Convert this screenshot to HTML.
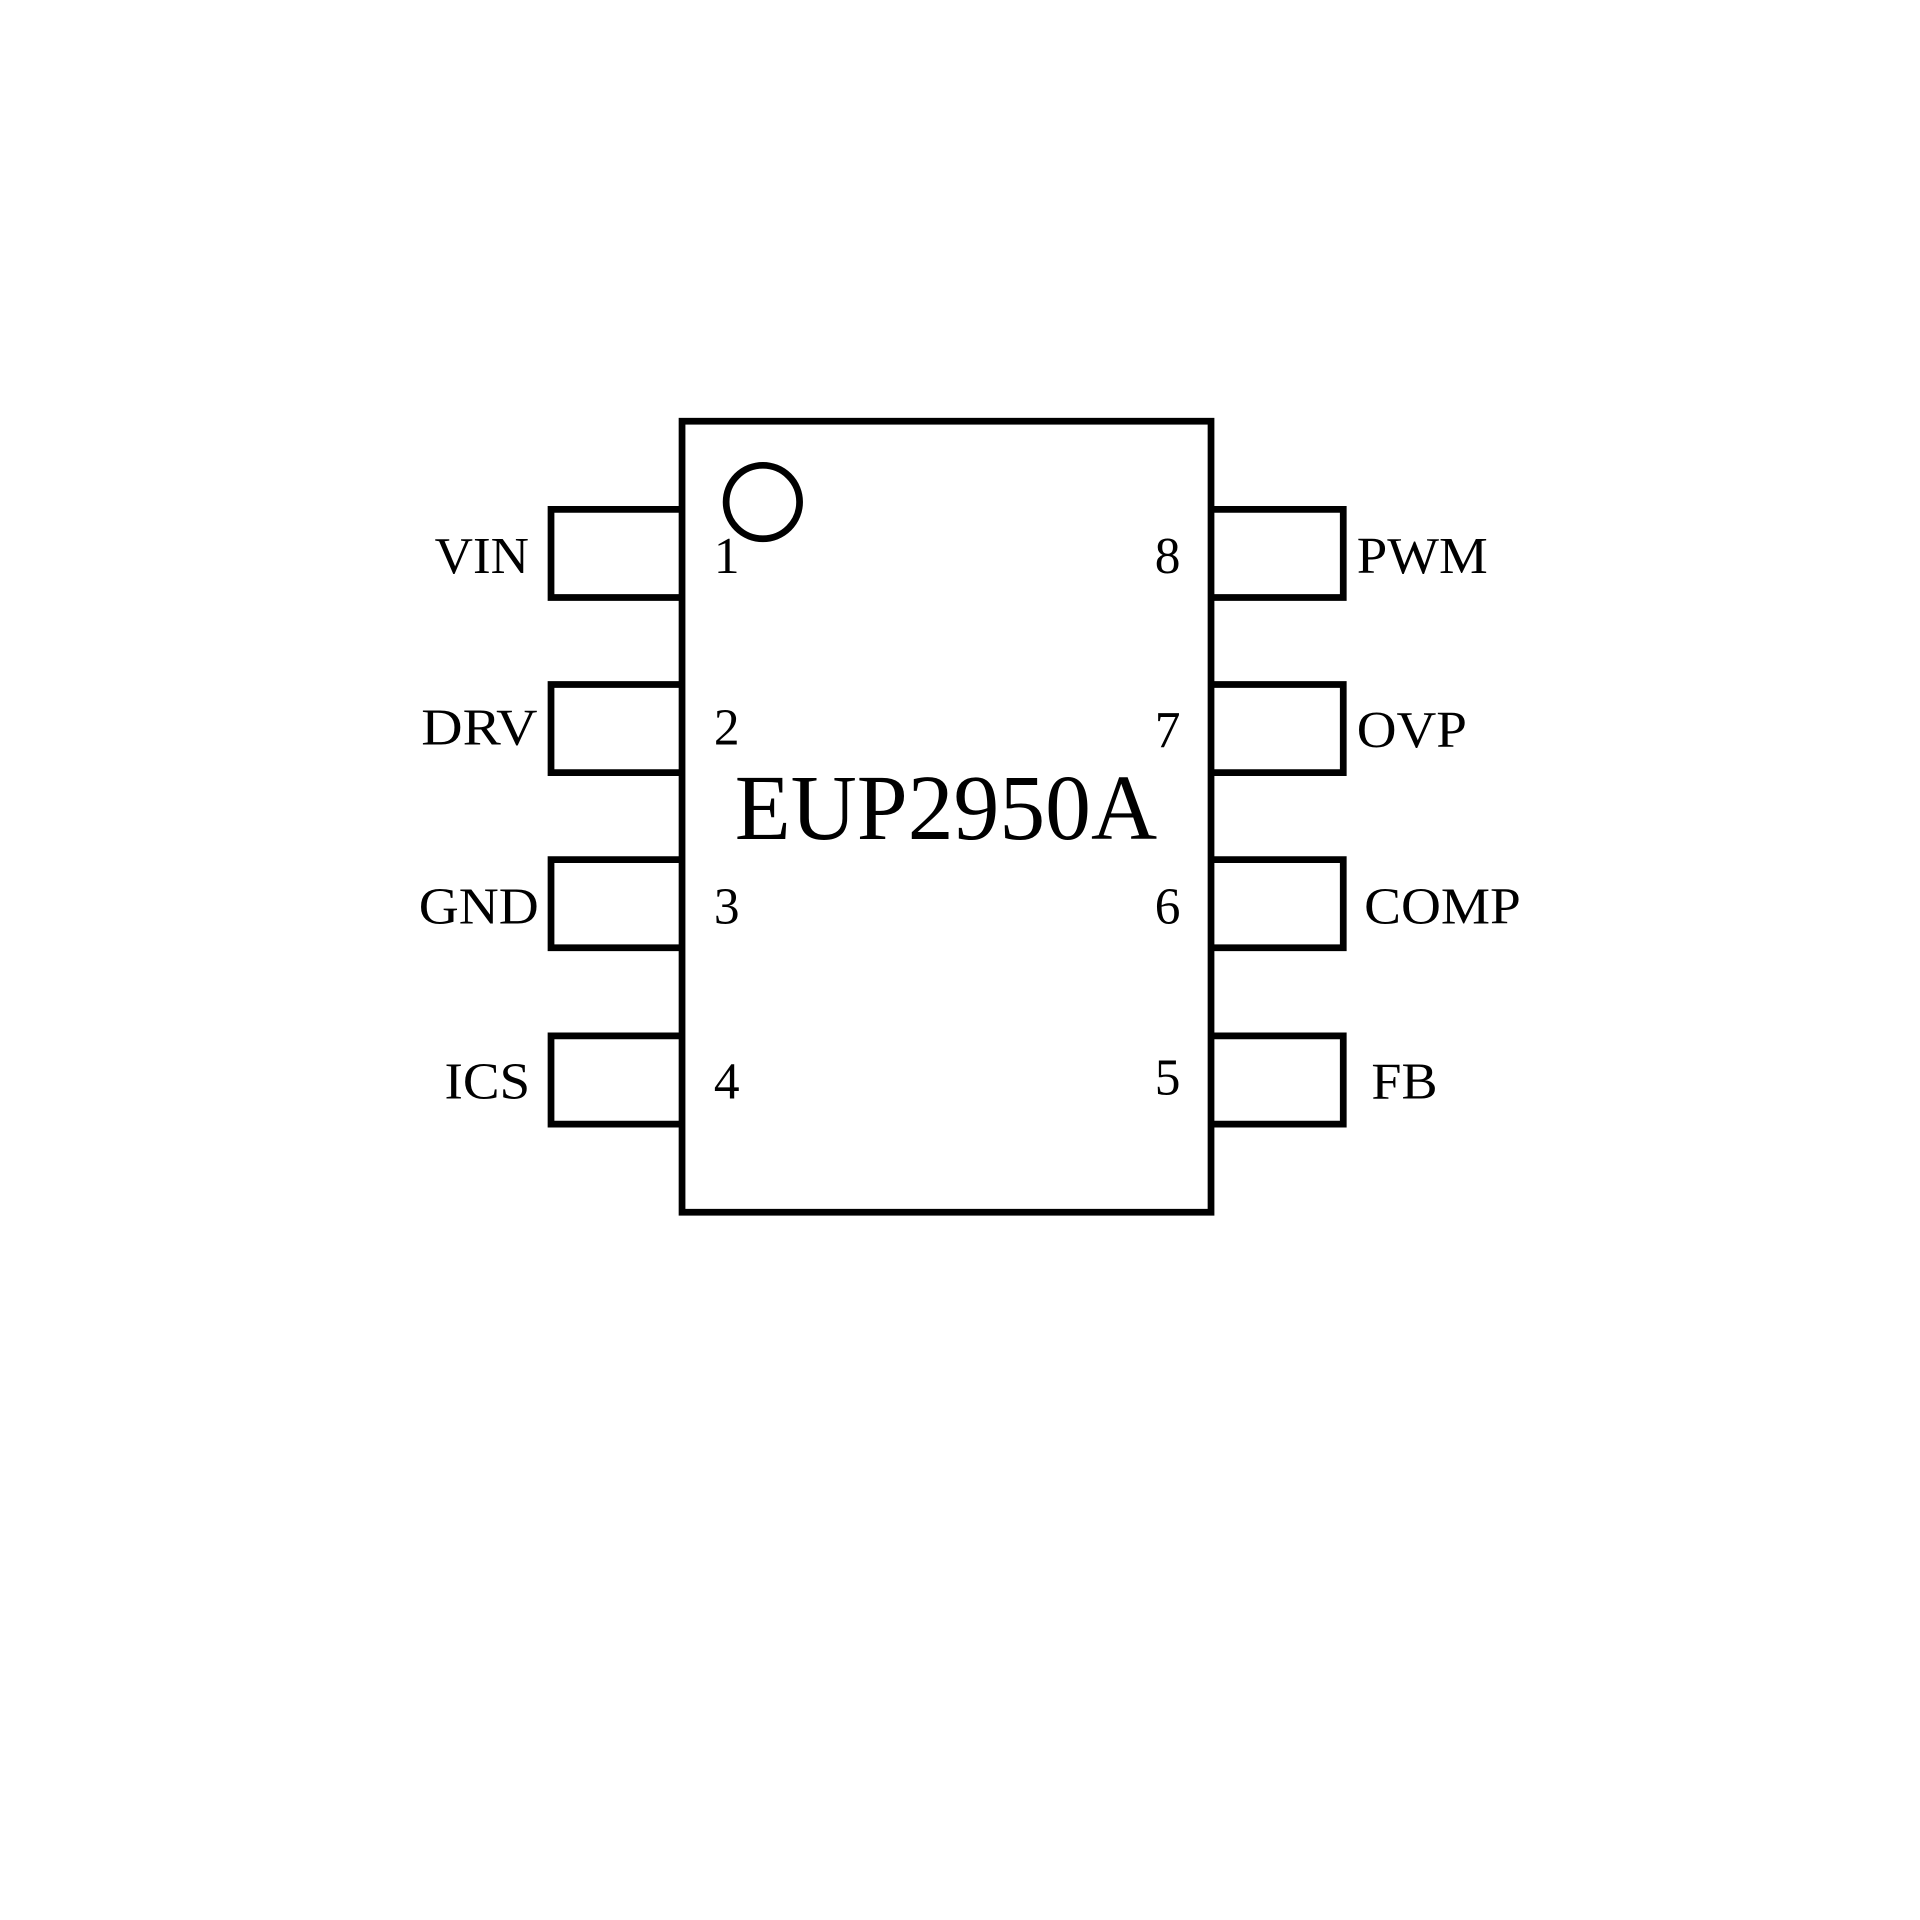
<!DOCTYPE html>
<html><head><meta charset="utf-8"><style>html,body{margin:0;padding:0;background:#fff}svg{display:block}</style></head>
<body>
<svg width="1920" height="1920" viewBox="0 0 1568 1568" xmlns="http://www.w3.org/2000/svg">
<g fill="none" stroke="#000" stroke-width="5.5">
<rect x="557" y="344" width="432" height="646"/>
<circle cx="623" cy="410" r="30"/>
<path d="M557 416H450V488H557M557 559H450V631H557M557 702H450V774H557M557 846H450V918H557"/>
<path d="M989 416H1097V488H989M989 559H1097V631H989M989 702H1097V774H989M989 846H1097V918H989"/>
</g>
<g font-family="Liberation Serif, serif" font-size="42" fill="#000" lengthAdjust="spacingAndGlyphs">
<text x="355" y="468" textLength="77" lengthAdjust="spacingAndGlyphs">VIN</text>
<text x="344" y="608" textLength="95" lengthAdjust="spacingAndGlyphs">DRV</text>
<text x="342" y="754" textLength="98" lengthAdjust="spacingAndGlyphs">GND</text>
<text x="363" y="897" textLength="70" lengthAdjust="spacingAndGlyphs">ICS</text>
<text x="583" y="468">1</text>
<text x="583" y="608">2</text>
<text x="583" y="754">3</text>
<text x="583" y="897">4</text>
<text x="964" y="468" text-anchor="end">8</text>
<text x="964" y="610" text-anchor="end">7</text>
<text x="964" y="754" text-anchor="end">6</text>
<text x="964" y="894" text-anchor="end">5</text>
<text x="1108" y="468" textLength="107" lengthAdjust="spacingAndGlyphs">PWM</text>
<text x="1108" y="610" textLength="90" lengthAdjust="spacingAndGlyphs">OVP</text>
<text x="1114" y="754" textLength="128" lengthAdjust="spacingAndGlyphs">COMP</text>
<text x="1120" y="897" textLength="54" lengthAdjust="spacingAndGlyphs">FB</text>
<text x="600" y="685" font-size="76" textLength="345" lengthAdjust="spacingAndGlyphs">EUP2950A</text>
</g>
</svg>
</body></html>
